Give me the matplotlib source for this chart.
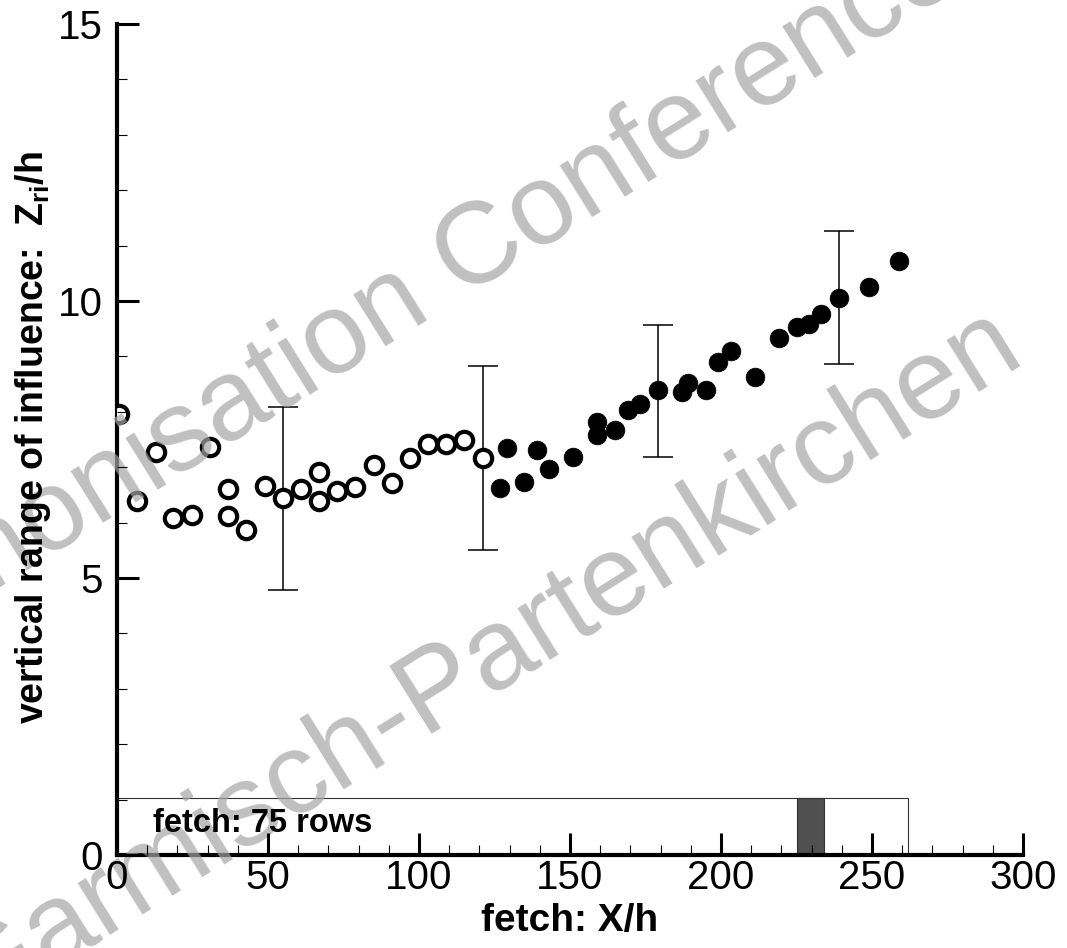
import numpy as np
import matplotlib.pyplot as plt
from matplotlib.patches import Rectangle

plt.rcParams['font.family'] = ['Liberation Sans', 'DejaVu Sans']
plt.rcParams['mathtext.fontset'] = 'custom'
plt.rcParams['mathtext.rm'] = 'Liberation Sans'
plt.rcParams['mathtext.bf'] = 'Liberation Sans:bold'

# open circles (upstream part)
x_open = [0.7, 6.6, 12.9, 18.5, 24.8, 30.8, 36.8, 36.8, 42.7, 49.0, 55.0, 61.0,
          66.9, 66.9, 72.8, 78.8, 85.1, 91.1, 97.0, 103.0, 108.9, 114.9, 121.2]
y_open = [7.96, 6.39, 7.27, 6.08, 6.14, 7.36, 6.61, 6.12, 5.87, 6.66, 6.44, 6.61,
          6.91, 6.39, 6.57, 6.64, 7.04, 6.71, 7.17, 7.42, 7.42, 7.49, 7.17]

# filled circles
x_fill = [126.8, 129.1, 134.8, 139.1, 143.0, 151.0, 158.9, 158.9, 164.9, 169.2,
          173.2, 179.1, 187.0, 189.0, 195.0, 199.0, 203.3, 211.3, 219.2, 225.2,
          229.1, 233.1, 239.1, 249.0, 259.0]
y_fill = [6.62, 7.35, 6.73, 7.31, 6.97, 7.18, 7.82, 7.58, 7.67, 8.03,
          8.14, 8.39, 8.36, 8.52, 8.39, 8.90, 9.10, 8.63, 9.33, 9.53,
          9.58, 9.77, 10.05, 10.25, 10.72]

# error bars
x_err = [55.0, 121.2, 179.1, 239.1]
err_low = [4.78, 5.51, 7.18, 8.86]
err_high = [8.09, 8.83, 9.57, 11.26]

# fetch box
fetch_end = 262
box_top = 1.02
mark_start, mark_end = 225, 234

fig = plt.figure(figsize=(10.67, 9.48), dpi=100)
ax = fig.add_axes([0.1097, 0.0981, 0.8491, 0.8766])

ax.add_patch(Rectangle((0, 0), fetch_end, box_top, facecolor='white',
                       edgecolor='#333333', linewidth=0.8, zorder=1))
ax.add_patch(Rectangle((mark_start, 0), mark_end - mark_start, box_top,
                       facecolor='#505050', edgecolor='#333333', linewidth=0.8, zorder=1))
ax.text(11.8, 0.415, 'fetch: 75 rows', fontsize=23.5, fontweight='bold', zorder=7)

err_mid = [(a + b) / 2 for a, b in zip(err_low, err_high)]
err_half = [(b - a) / 2 for a, b in zip(err_low, err_high)]
ax.errorbar(x_err, err_mid, yerr=err_half, fmt='none', ecolor='black',
            elinewidth=1.1, capsize=11, capthick=1.1, zorder=3)

ax.plot(x_open, y_open, 'o', ms=12.5, mfc='white', mec='black', mew=3.0,
        linestyle='none', zorder=4)
ax.plot(x_fill, y_fill, 'o', ms=13.5, mfc='black', mec='black', mew=0.5,
        linestyle='none', zorder=4)

ax.set_xlim(0, 300)
ax.set_ylim(0, 15)
ax.set_xticks(np.arange(0, 301, 50))
ax.set_xticks(np.arange(0, 301, 10), minor=True)
ax.set_yticks(np.arange(0, 16, 5))
ax.set_yticks(np.arange(0, 16, 1), minor=True)

for s in ['top', 'right']:
    ax.spines[s].set_visible(False)
for s in ['left', 'bottom']:
    ax.spines[s].set_linewidth(3)
ax.tick_params(which='major', direction='in', length=16, width=2.2,
               labelsize=29)
ax.tick_params(which='minor', direction='in', length=7, width=0.8)
ax.tick_params(axis='y', which='major', pad=10)
ax.tick_params(axis='x', which='major', pad=3)
ax.xaxis.set_zorder(7)
ax.yaxis.set_zorder(7)

ax.set_xlabel('fetch: X/h', fontsize=28, fontweight='bold', labelpad=4)
fig.text(33 / 1067, 1 - 438 / 948,
         r'vertical range of influence:  $\mathbf{Z}_{\mathbf{ri}}$/h',
         rotation=90, ha='center', va='center', fontsize=27, fontweight='bold')

# watermark (between the markers and the labels)
ax.text(-197 / 1067, 1 - 710 / 948, 'Harmonisation Conference', fontsize=83,
        color='#a5a5a5', alpha=0.7, rotation=32, rotation_mode='anchor',
        ha='left', va='baseline', transform=fig.transFigure, clip_on=False,
        zorder=5)
ax.text(1026 / 1067, 1 - 359 / 948, 'Garmisch-Partenkirchen', fontsize=83,
        color='#a5a5a5', alpha=0.7, rotation=32, rotation_mode='anchor',
        ha='right', va='baseline', transform=fig.transFigure, clip_on=False,
        zorder=5)

fig.savefig('out.png', dpi=100)
